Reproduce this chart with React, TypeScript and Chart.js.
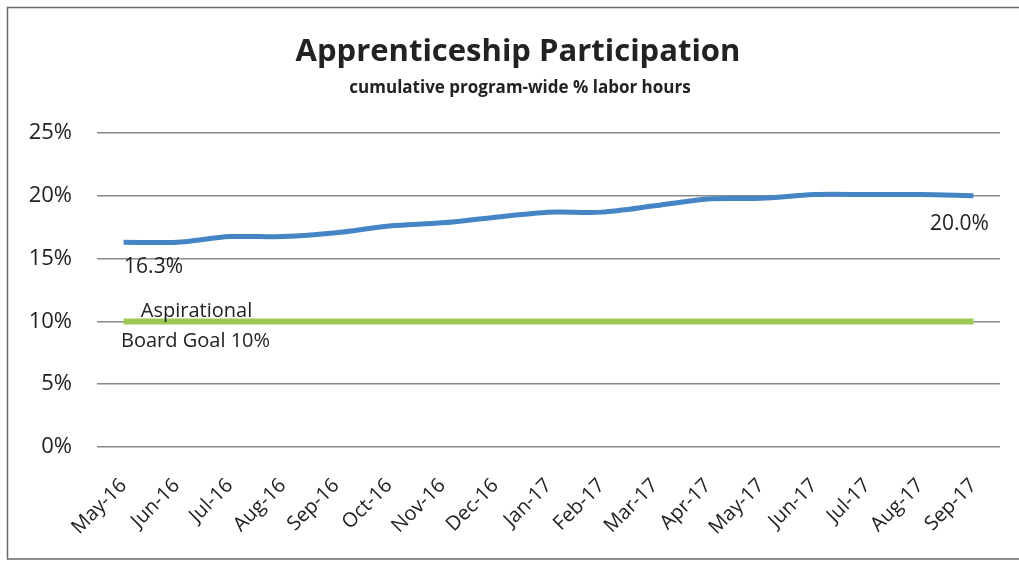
import React, { useEffect, useRef } from "react";
import { Chart, registerables } from "chart.js";

Chart.register(...registerables);

const categories = [
  "May-16", "Jun-16", "Jul-16", "Aug-16", "Sep-16", "Oct-16", "Nov-16", "Dec-16",
  "Jan-17", "Feb-17", "Mar-17", "Apr-17", "May-17", "Jun-17", "Jul-17", "Aug-17", "Sep-17",
];
const participation = [16.3, 16.3, 16.75, 16.75, 17.05, 17.6, 17.85, 18.3, 18.7, 18.7, 19.2, 19.75, 19.8, 20.1, 20.1, 20.1, 20.0];
const goal = [10, 10, 10, 10, 10, 10, 10, 10, 10, 10, 10, 10, 10, 10, 10, 10, 10];
const yTicks = [0, 5, 10, 15, 20, 25];
const titleText = "Apprenticeship Participation";
const subtitleText = "cumulative program-wide % labor hours";
const goalLabel = ["Aspirational", "Board Goal 10%"];

const FONT = "'Open Sans', Lato, sans-serif";
const TEXT = "#222222";

const decorPlugin = {
  id: "decor",
  afterDraw(chart: any) {
    const { ctx } = chart;
    const xs = chart.scales.x;
    const ys = chart.scales.y;
    ctx.save();
    // frame
    ctx.strokeStyle = "#6a6a6a";
    ctx.lineWidth = 1.5;
    ctx.beginPath();
    ctx.moveTo(1019, 7.5);
    ctx.lineTo(7.5, 7.5);
    ctx.lineTo(7.5, 559);
    ctx.lineTo(1019, 559);
    ctx.stroke();
    // title
    ctx.fillStyle = TEXT;
    ctx.textAlign = "center";
    ctx.textBaseline = "middle";
    ctx.font = `bold 31px ${FONT}`;
    ctx.fillText(titleText, 518, 52);
    ctx.font = `bold 17px ${FONT}`;
    ctx.fillText(subtitleText, 520, 88);
    // data labels
    ctx.font = `21px ${FONT}`;
    const first = participation[0];
    const last = participation[participation.length - 1];
    ctx.fillText(
      first.toFixed(1) + "%",
      xs.getPixelForValue(0) + 30,
      ys.getPixelForValue(first) + 25
    );
    ctx.fillText(
      last.toFixed(1) + "%",
      xs.getPixelForValue(participation.length - 1) - 14,
      ys.getPixelForValue(last) + 28
    );
    ctx.font = `20px ${FONT}`;
    ctx.fillText(goalLabel[0], xs.getPixelForValue(0) + 73, ys.getPixelForValue(goal[0]) - 10);
    ctx.fillText(goalLabel[1], xs.getPixelForValue(0) + 72, ys.getPixelForValue(goal[0]) + 20);
    ctx.restore();
  },
};

export default function App() {
  const ref = useRef<HTMLCanvasElement | null>(null);
  useEffect(() => {
    document.body.style.margin = "0";
    if (!ref.current) return;
    const chart = new Chart(ref.current, {
      type: "line",
      data: {
        labels: categories,
        datasets: [
          {
            label: "Participation",
            data: participation,
            borderColor: "#4585c6",
            borderWidth: 5,
            pointRadius: 0,
            tension: 0.3,
            fill: false,
          },
          {
            label: "Goal",
            data: goal,
            borderColor: "#9cc856",
            borderWidth: 6,
            pointRadius: 0,
            tension: 0,
            fill: false,
          },
        ],
      },
      options: {
        responsive: false,
        animation: false,
        layout: { padding: { top: 133, right: 19, bottom: 0, left: 0 } },
        plugins: { legend: { display: false }, tooltip: { enabled: false }, title: { display: false } },
        scales: {
          x: {
            offset: true,
            grid: { display: false, drawTicks: false },
            border: { display: false },
            ticks: {
              color: TEXT,
              font: { family: FONT, size: 20 },
              maxRotation: 45,
              minRotation: 45,
              autoSkip: false,
              padding: 27,
            },
            afterFit(scale: any) {
              scale.height = 114;
            },
          },
          y: {
            min: 0,
            max: 25,
            afterBuildTicks(scale: any) {
              scale.ticks = yTicks.map((v) => ({ value: v }));
            },
            grid: { color: "#8a8a8a", lineWidth: 1.5, drawTicks: false },
            border: { display: false },
            ticks: {
              color: TEXT,
              font: { family: FONT, size: 22 },
              padding: 25,
              callback: (v: any) => v + "%",
            },
            afterFit(scale: any) {
              scale.width = 97;
            },
          },
        },
      },
      plugins: [decorPlugin],
    });
    return () => chart.destroy();
  }, []);
  return (
    <div style={{ position: "relative", width: 1019, height: 561, background: "#fff" }}>
      <canvas ref={ref} width={1019} height={561} />
    </div>
  );
}
